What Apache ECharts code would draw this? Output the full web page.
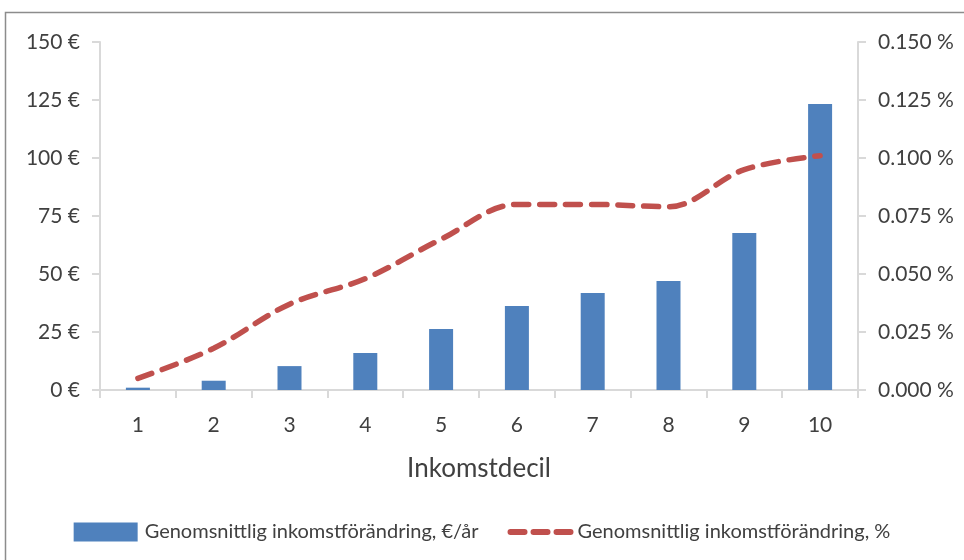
<!DOCTYPE html>
<html>
<head>
<meta charset="utf-8">
<script src="https://cdn.jsdelivr.net/npm/echarts@6/dist/echarts.min.js"></script>
<style>
  html, body { margin: 0; padding: 0; background: #fff; }
  #chart { width: 964px; height: 560px; }
</style>
</head>
<body>
<div id="chart"></div>
<script>
// Income deciles and average income change per decile
const deciles = ['1', '2', '3', '4', '5', '6', '7', '8', '9', '10'];
const changeEuroPerYear = [1, 4, 10.3, 15.9, 26.3, 36.2, 41.8, 47, 67.7, 123.3];
const changePercent = [0.005, 0.018, 0.037, 0.048, 0.065, 0.080, 0.080, 0.079, 0.095, 0.101];
const euroTicks = [0, 25, 50, 75, 100, 125, 150];
const percentTicks = [0, 0.025, 0.05, 0.075, 0.1, 0.125, 0.15];

const barName = 'Genomsnittlig inkomstförändring, €/år';
const lineName = 'Genomsnittlig inkomstförändring, %';

const font = 'Lato, "Open Sans", sans-serif';
const textColor = '#404040';
const axisGrey = '#d9d9d9';
const barColor = '#4f81bd';
const lineColor = '#c0504d';

const chart = echarts.init(document.getElementById('chart'), null, { renderer: 'canvas' });

chart.setOption({
  animation: false,
  textStyle: { fontFamily: font },
  graphic: [{
    type: 'rect',
    shape: { x: 5.5, y: 12.5, width: 1000, height: 600 },
    style: { fill: 'none', stroke: '#8c8c8c', lineWidth: 1.5 },
    silent: true
  }],
  grid: { left: 100, right: 106, top: 42, bottom: 170 },
  legend: {
    bottom: 13,
    left: 'center',
    itemWidth: 64,
    itemHeight: 19,
    itemGap: 25,
    textStyle: { fontFamily: font, fontSize: 20, color: textColor, padding: [0, 0, 0, 2] },
    data: [
      { name: barName, icon: 'rect' },
      {
        name: lineName,
        itemStyle: { opacity: 0 },
        lineStyle: { color: lineColor, width: 6, type: [14, 9], cap: 'round', dashOffset: -4 }
      }
    ]
  },
  xAxis: {
    type: 'category',
    data: deciles,
    name: 'Inkomstdecil',
    nameLocation: 'middle',
    nameGap: 66,
    nameTextStyle: { fontFamily: font, fontSize: 26, color: textColor },
    axisLine: { lineStyle: { color: axisGrey, width: 2 } },
    axisTick: { show: true, length: 8, lineStyle: { color: axisGrey, width: 2 } },
    axisLabel: { fontFamily: font, fontSize: 21, color: textColor, margin: 25 }
  },
  yAxis: [{
    type: 'value',
    min: 0, max: 150, interval: 25,
    axisLine: { show: true, lineStyle: { color: axisGrey, width: 2 } },
    axisTick: { show: true, length: 8, lineStyle: { color: axisGrey, width: 2 } },
    splitLine: { show: false },
    axisLabel: {
      fontFamily: font, fontSize: 21, color: textColor, margin: 20,
      formatter: v => euroTicks.includes(v) ? v + ' €' : ''
    }
  }, {
    type: 'value',
    min: 0, max: 0.15, interval: 0.025,
    axisLine: { show: true, lineStyle: { color: axisGrey, width: 2 } },
    axisTick: { show: true, length: 8, lineStyle: { color: axisGrey, width: 2 } },
    splitLine: { show: false },
    axisLabel: {
      fontFamily: font, fontSize: 21, color: textColor, margin: 20,
      formatter: v => v.toFixed(3) + ' %'
    }
  }],
  series: [{
    name: barName,
    type: 'bar',
    yAxisIndex: 0,
    data: changeEuroPerYear,
    barWidth: 24,
    itemStyle: { color: barColor }
  }, {
    name: lineName,
    type: 'line',
    yAxisIndex: 1,
    data: changePercent,
    smooth: 0.35,
    symbol: 'none',
    lineStyle: { color: lineColor, width: 5.5, type: [15, 11], cap: 'round' },
    itemStyle: { color: lineColor }
  }]
});
</script>
</body>
</html>
